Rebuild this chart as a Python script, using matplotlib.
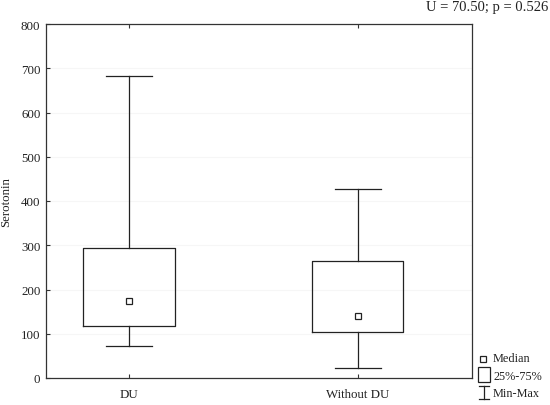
import matplotlib
matplotlib.use("Agg")
import matplotlib.pyplot as plt
from matplotlib.patches import Rectangle
from matplotlib.lines import Line2D

# values
groups = ["DU", "Without DU"]
mins = [72, 23]
q1s = [118, 104]
medians = [175, 139]
q3s = [294, 264]
maxs = [682, 426]
stat_text = "U = 70.50; p = 0.526"

plt.rcParams["font.family"] = ["Liberation Serif", "DejaVu Serif"]
plt.rcParams["font.size"] = 9.3

fig = plt.figure(figsize=(5.5, 4.06), dpi=100)
ax = fig.add_axes([46 / 550, 27 / 406, 426 / 550, 354 / 406])

stats = []
for g, lo, a, m, b, hi in zip(groups, mins, q1s, medians, q3s, maxs):
    stats.append(dict(label=g, whislo=lo, q1=a, med=m, q3=b, whishi=hi))

pos = [1, 2]
ax.bxp(stats, positions=pos, widths=0.4, capwidths=0.2, showfliers=False,
       boxprops=dict(color="#222222", linewidth=0.9),
       whiskerprops=dict(color="#222222", linewidth=0.9),
       capprops=dict(color="#222222", linewidth=0.9),
       medianprops=dict(linewidth=0))
ax.plot(pos, medians, ls="none", marker="s", ms=4.5, mfc="white",
        mec="#222222", mew=0.9, zorder=5)

ax.set_xlim(0.637, 2.5)
ax.set_ylim(0, 800)
ax.set_yticks(range(0, 801, 100))
ax.set_xticks(pos)
ax.set_xticklabels(groups)
ax.yaxis.grid(True, color="#f6f6f6", linewidth=0.8)
ax.set_axisbelow(True)
ax.tick_params(direction="in", length=3, width=0.8, color="#333333",
               top=True, right=False, pad=4, labelcolor="#222222")
ax.tick_params(axis="x", pad=7)
for s in ax.spines.values():
    s.set_color("#333333")
    s.set_linewidth(0.9)
ax.set_ylabel("Serotonin", color="#222222", labelpad=6)

fig.text(548 / 550, 1 - 8 / 406, stat_text, ha="right", va="center",
         fontsize=10.5, color="#222222")

# legend drawn outside the axes, bottom right
tf = fig.transFigure
def fx(px):
    return px / 550
def fy(py):
    return 1 - py / 406

fig.add_artist(Rectangle((fx(480), fy(363)), fx(6), 6 / 406, transform=tf,
                         fill=False, ec="#222222", lw=0.9))
fig.text(fx(493), fy(359), "Median", va="center", fontsize=8.8, color="#222222")
fig.add_artist(Rectangle((fx(478), fy(383)), fx(12), 15 / 406, transform=tf,
                         fill=False, ec="#222222", lw=0.9))
fig.text(fx(493), fy(377), "25%-75%", va="center", fontsize=8.8, color="#222222")
fig.add_artist(Line2D([fx(484), fx(484)], [fy(387), fy(400)], transform=tf,
                      color="#222222", lw=0.9))
fig.add_artist(Line2D([fx(479), fx(489)], [fy(387), fy(387)], transform=tf,
                      color="#222222", lw=0.9))
fig.add_artist(Line2D([fx(479), fx(489)], [fy(400), fy(400)], transform=tf,
                      color="#222222", lw=0.9))
fig.text(fx(493), fy(394), "Min-Max", va="center", fontsize=8.8, color="#222222")

fig.savefig("out.png", dpi=100)
